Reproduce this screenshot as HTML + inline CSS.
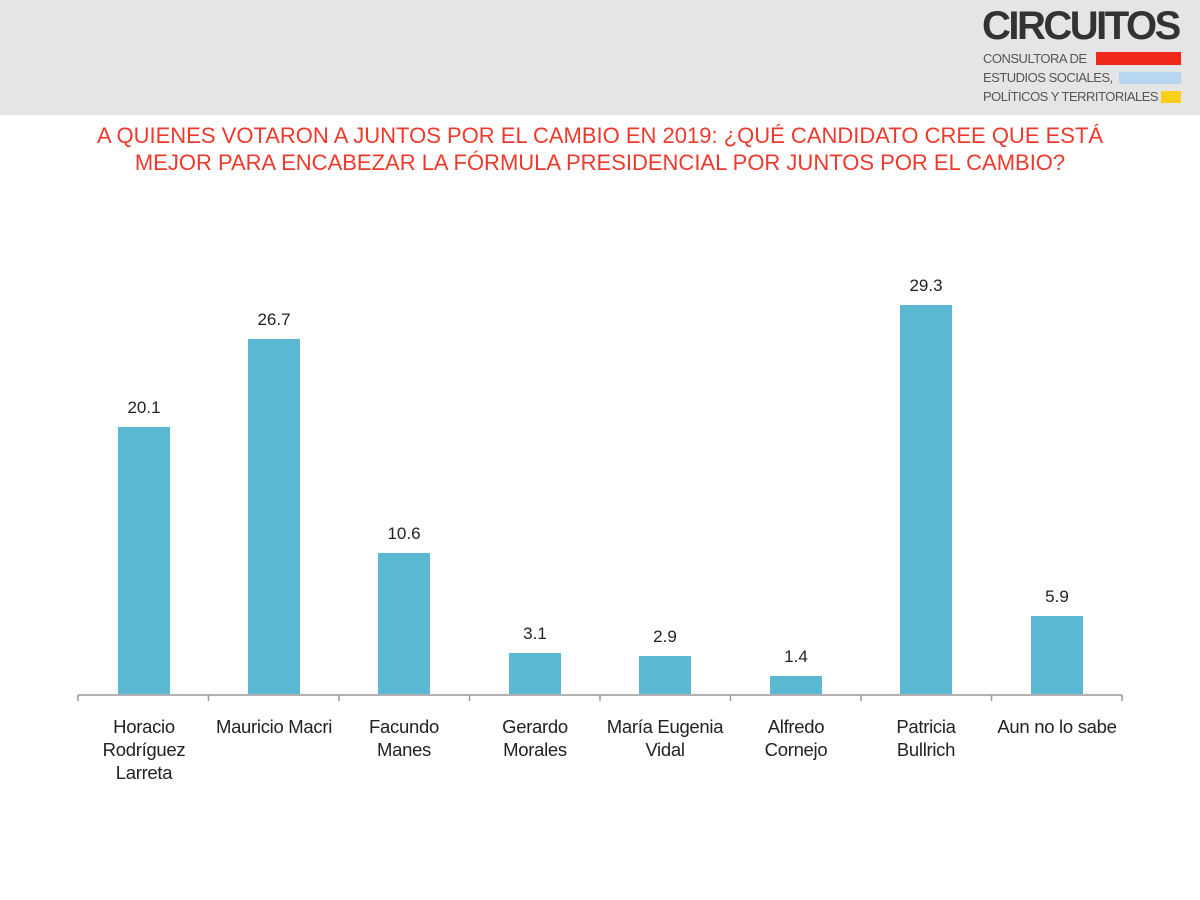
<!DOCTYPE html>
<html><head><meta charset="utf-8"><style>
body{margin:0;width:1200px;height:900px;background:#fff;font-family:"Liberation Sans",Arial,sans-serif;overflow:hidden;position:relative}
.hdr{position:absolute;left:0;top:0;width:1200px;height:115px;background:#e5e5e5}
.t{position:absolute;left:0;width:1200px;text-align:center;color:#ee3a2c;font-size:22px}
.v{position:absolute;width:100px;text-align:center;font-size:17px;color:#222}
.c{position:absolute;width:130px;text-align:center;font-size:18.5px;color:#222;line-height:23px;letter-spacing:-0.3px}
.b{position:absolute;width:52px;background:#5ab8d3}
.lg{position:absolute;color:#555;font-size:13px;letter-spacing:-0.5px}
</style></head><body>
<div class="hdr"></div>
<div style="position:absolute;left:982px;top:4px;font-size:40px;font-weight:bold;color:#333;letter-spacing:-2.5px">CIRCUITOS</div>
<div class="lg" style="left:983px;top:51px">CONSULTORA DE</div>
<div style="position:absolute;left:1096px;top:52px;width:85px;height:13px;background:#f0281b"></div>
<div class="lg" style="left:983px;top:70px">ESTUDIOS SOCIALES,</div>
<div style="position:absolute;left:1119px;top:72px;width:62px;height:12px;background:#b8d6f2"></div>
<div class="lg" style="left:983px;top:89px">POLÍTICOS Y TERRITORIALES</div>
<div style="position:absolute;left:1161px;top:91px;width:20px;height:12px;background:#f9cf1c"></div>
<div class="t" style="top:123px">A QUIENES VOTARON A JUNTOS POR EL CAMBIO EN 2019: ¿QUÉ CANDIDATO CREE QUE ESTÁ</div>
<div class="t" style="top:150px">MEJOR PARA ENCABEZAR LA FÓRMULA PRESIDENCIAL POR JUNTOS POR EL CAMBIO?</div>
<svg style="position:absolute;left:0;top:0" width="1200" height="900">
<line x1="78" y1="695" x2="1122" y2="695" stroke="#999" stroke-width="1.5"/>
<g stroke="#999" stroke-width="1.5">
<line x1="78" y1="695" x2="78" y2="701"/><line x1="208.5" y1="695" x2="208.5" y2="701"/><line x1="339" y1="695" x2="339" y2="701"/><line x1="469.5" y1="695" x2="469.5" y2="701"/><line x1="600" y1="695" x2="600" y2="701"/><line x1="730.5" y1="695" x2="730.5" y2="701"/><line x1="861" y1="695" x2="861" y2="701"/><line x1="991.5" y1="695" x2="991.5" y2="701"/><line x1="1122" y1="695" x2="1122" y2="701"/>
</g></svg>
<div class="b" style="left:118px;top:427px;height:267px"></div>
<div class="b" style="left:248px;top:339px;height:355px"></div>
<div class="b" style="left:378px;top:553px;height:141px"></div>
<div class="b" style="left:509px;top:653px;height:41px"></div>
<div class="b" style="left:639px;top:656px;height:38px"></div>
<div class="b" style="left:770px;top:676px;height:18px"></div>
<div class="b" style="left:900px;top:305px;height:389px"></div>
<div class="b" style="left:1031px;top:616px;height:78px"></div>
<div class="v" style="left:94px;top:398px">20.1</div>
<div class="v" style="left:224px;top:310px">26.7</div>
<div class="v" style="left:354px;top:524px">10.6</div>
<div class="v" style="left:485px;top:624px">3.1</div>
<div class="v" style="left:615px;top:627px">2.9</div>
<div class="v" style="left:746px;top:647px">1.4</div>
<div class="v" style="left:876px;top:276px">29.3</div>
<div class="v" style="left:1007px;top:587px">5.9</div>
<div class="c" style="left:79px;top:715px">Horacio<br>Rodríguez<br>Larreta</div>
<div class="c" style="left:203px;top:715px;width:142px">Mauricio Macri</div>
<div class="c" style="left:339px;top:715px">Facundo<br>Manes</div>
<div class="c" style="left:470px;top:715px">Gerardo<br>Morales</div>
<div class="c" style="left:590px;top:715px;width:150px">María Eugenia<br>Vidal</div>
<div class="c" style="left:731px;top:715px">Alfredo<br>Cornejo</div>
<div class="c" style="left:861px;top:715px">Patricia<br>Bullrich</div>
<div class="c" style="left:984px;top:715px;width:146px">Aun no lo sabe</div>
</body></html>
